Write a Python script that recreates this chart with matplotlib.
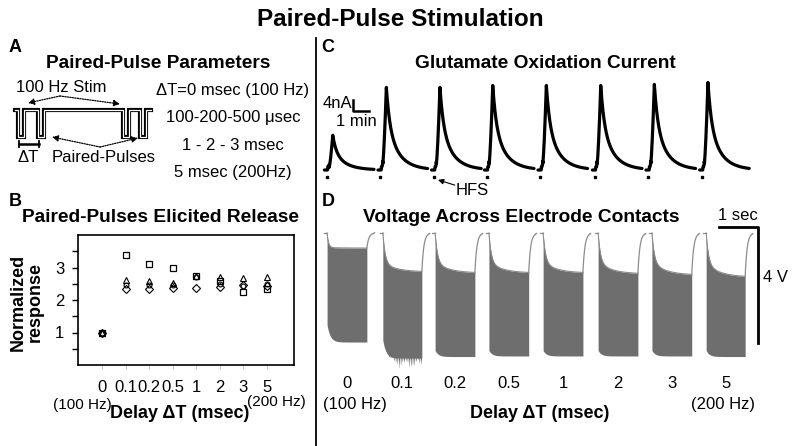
import numpy as np
import matplotlib
matplotlib.use("Agg")
import matplotlib.pyplot as plt

plt.rcParams['font.family'] = ['Liberation Sans', 'DejaVu Sans']

# ---------------- data ----------------
delays = ['0', '0.1', '0.2', '0.5', '1', '2', '3', '5']

# Panel B: normalized response per delay (four experiments)
resp_squares = [1.0, 3.40, 3.12, 3.00, 2.75, 2.57, 2.26, 2.35]
resp_triangles = [1.0, 2.62, 2.60, 2.52, 2.75, 2.70, 2.68, 2.71]
resp_diamonds = [1.0, 2.33, 2.33, 2.37, 2.37, 2.40, 2.45, 2.42]
resp_circles = [1.0, 2.45, 2.45, 2.45, 2.72, 2.50, 2.42, 2.48]

# Panel C: glutamate oxidation current (stimulation time in min, peak in nA)
stim_min = [0.4, 3.75, 7.1, 10.4, 13.75, 17.15, 20.5, 23.85]
peak_nA = [12.7, 30.2, 30.2, 30.9, 30.9, 30.9, 31.3, 32.0]

# Panel D: voltage across electrode contacts (sec, V)
train_start_s = [0.13, 1.56, 2.90, 4.28, 5.67, 7.08, 8.46, 9.85]
train_dur_s = [1.02, 1.00, 1.02, 1.02, 1.02, 1.02, 1.02, 1.00]
top_start_V = [-0.50, -1.03, -1.00, -1.00, -1.00, -1.00, -1.00, -1.05]
top_end_V = [-0.52, -1.34, -1.38, -1.38, -1.38, -1.41, -1.45, -1.52]
bot_start_V = [-3.17, -3.70, -4.05, -4.05, -4.05, -4.05, -4.05, -4.05]
bot_end_V = [-3.76, -4.31, -4.26, -4.24, -4.24, -4.24, -4.24, -4.26]

# Panel A schematic waveform (schematic units)
wave_x = [15, 18, 18, 24, 24, 38, 38, 44, 44, 123, 123, 129, 129, 140, 140, 146, 146, 151]
wave_y = [110, 110, 137, 137, 110, 110, 137, 137, 110, 110, 137, 137, 110, 110, 137, 137, 110, 110]
param_lines = ['\u0394T=0 msec (100 Hz)', '100-200-500 \u03bcsec', '1 - 2 - 3 msec', '5 msec (200Hz)']

W, H = 800, 446
fig = plt.figure(figsize=(W / 100, H / 100), dpi=100)

FS = 12      # regular text
FSB = 13     # bold axis labels
FST = 13.8   # panel titles


def px(x0, y0, x1, y1):
    return [x0 / W, 1 - y1 / H, (x1 - x0) / W, (y1 - y0) / H]


# overlay in pixel coordinates for text & schematic
ov = fig.add_axes([0, 0, 1, 1])
ov.set_xlim(0, W)
ov.set_ylim(H, 0)
ov.axis('off')

ov.text(400, 19, 'Paired-Pulse Stimulation', ha='center', va='center', fontsize=17.5, fontweight='bold')
ov.plot([316, 316], [38, 446], color='k', lw=1.3)

# ---- Panel A ----
ov.text(15, 47, 'A', ha='center', va='center', fontsize=13, fontweight='bold')
ov.text(158, 63, 'Paired-Pulse Parameters', ha='center', va='center', fontsize=FST, fontweight='bold')
ov.plot(wave_x, wave_y, color='k', lw=3.0, solid_joinstyle='miter')
ov.plot(wave_x, wave_y, color='white', lw=0.9, solid_joinstyle='miter')
ov.text(61, 88, '100 Hz Stim', ha='center', va='center', fontsize=FS)
for tgt in [(28, 103), (120, 104)]:
    ov.annotate('', xy=tgt, xytext=(60, 96),
                arrowprops=dict(arrowstyle='-|>', linestyle=(0, (1, 1)), lw=0.9, color='k',
                                mutation_scale=9, shrinkA=0, shrinkB=0))
for tgt in [(52, 137), (138, 138)]:
    ov.annotate('', xy=tgt, xytext=(100, 147),
                arrowprops=dict(arrowstyle='-|>', linestyle=(0, (1, 1)), lw=0.9, color='k',
                                mutation_scale=9, shrinkA=0, shrinkB=0))
ov.plot([19, 39], [144, 144], color='k', lw=1.8)
ov.plot([19, 19], [141, 147], color='k', lw=1.3)
ov.plot([39, 39], [141, 147], color='k', lw=1.3)
ov.text(28, 158, '\u0394T', ha='center', va='center', fontsize=FS)
ov.text(104, 158, 'Paired-Pulses', ha='center', va='center', fontsize=FS)
for i, s in enumerate(param_lines):
    ov.text(233, 90 + 27.5 * i, s, ha='center', va='center', fontsize=FS)

# ---- Panel B ----
ov.text(15, 201, 'B', ha='center', va='center', fontsize=13, fontweight='bold')
ov.text(161, 218, 'Paired-Pulses Elicited Release', ha='center', va='center', fontsize=FST, fontweight='bold')
ov.text(27, 302, 'Normalized\nresponse', ha='center', va='center', fontsize=FSB, fontweight='bold',
        rotation=90, linespacing=1.0)
ov.text(82, 405, '(100 Hz)', ha='center', va='center', fontsize=11)
ov.text(180, 414, 'Delay \u0394T (msec)', ha='center', va='center', fontsize=FSB, fontweight='bold')
ov.text(276, 402, '(200 Hz)', ha='center', va='center', fontsize=11)

axB = fig.add_axes(px(78, 235, 294, 365))
xpos = np.arange(len(delays))
axB.plot(xpos, resp_triangles, linestyle='none', marker='^', ms=5, mfc='none', mec='k', mew=0.8)
axB.plot(xpos, resp_circles, linestyle='none', marker='o', ms=3.5, mfc='none', mec='k', mew=0.8)
axB.plot(xpos, resp_diamonds, linestyle='none', marker='D', ms=3.8, mfc='none', mec='k', mew=0.8)
axB.plot(xpos, resp_squares, linestyle='none', marker='s', ms=4.8, mfc='none', mec='k', mew=0.9)
axB.set_xlim(-1.02, 8.15)
axB.set_ylim(0, 4)
axB.set_xticks(xpos)
axB.set_xticklabels(delays, fontsize=FS)
axB.set_yticks([0.5, 1, 1.5, 2, 2.5, 3, 3.5])
axB.set_yticklabels(['', '1', '', '2', '', '3', ''], fontsize=FS)
axB.tick_params(axis='y', direction='out', length=4, width=1, pad=6)
axB.tick_params(axis='x', direction='out', length=3, width=0.6, color='#bbbbbb', pad=8)
for sp in axB.spines.values():
    sp.set_linewidth(1.2)

# ---- Panel C ----
ov.text(328, 47, 'C', ha='center', va='center', fontsize=13, fontweight='bold')
ov.text(545, 63, 'Glutamate Oxidation Current', ha='center', va='center', fontsize=FST, fontweight='bold')

axC = fig.add_axes(px(322, 75, 762, 184))
axC.set_xlim(0, (762 - 322) / 16)
axC.set_ylim((170 - 184) / 2.75, (170 - 75) / 2.75)
axC.axis('off')
axC.patch.set_alpha(0)
for t0, amp in zip(stim_min, peak_nA):
    t = np.linspace(-0.25, 2.85, 500)
    rise = amp * np.clip(t / 0.27, 0, 1) ** 1.6
    s = np.clip(t - 0.27, 0, None)
    decay = amp * (0.45 * np.exp(-s / 0.22) + 0.55 * np.exp(-s / 0.75))
    y = np.where(t < 0, 0, np.where(t < 0.27, rise, decay))
    y = y + np.where((t > -0.05) & (t < 0.05), 1.2, 0)
    axC.plot(t0 + t, y, color='k', lw=2.3, solid_capstyle='round')
    axC.plot([t0 - 0.1], [-2.6], marker='s', ms=1.8, color='k')
# scale bar
axC.plot([1.94, 1.94, 2.94], [25.5, 21.5, 21.5], color='k', lw=1.8)
axC.text(1.9, 24.0, '4nA', ha='right', va='center', fontsize=FS)
axC.text(2.15, 17.6, '1 min', ha='center', va='center', fontsize=FS)
axC.annotate('', xy=(7.25, -3.6), xytext=(8.3, -5.5), annotation_clip=False,
             arrowprops=dict(arrowstyle='-|>', color='k', lw=0.8, mutation_scale=8,
                             shrinkA=0, shrinkB=0))
axC.text(9.4, -7.3, 'HFS', ha='center', va='center', fontsize=FS)

# ---- Panel D ----
ov.text(328, 201, 'D', ha='center', va='center', fontsize=13, fontweight='bold')
ov.text(521, 217, 'Voltage Across Electrode Contacts', ha='center', va='center', fontsize=FST, fontweight='bold')

axD = fig.add_axes(px(322, 225, 790, 372))
axD.set_xlim(0, (790 - 322) / 39)
axD.set_ylim((233 - 372) / 29, (233 - 225) / 29)
axD.axis('off')
axD.patch.set_alpha(0)
fill_c = '#6e6e6e'
edge_c = '#8c8c8c'
for i, (t0, dur) in enumerate(zip(train_start_s, train_dur_s)):
    t = np.linspace(0, dur, 3000)
    plateau = top_start_V[i] + (top_end_V[i] - top_start_V[i]) * (1 - np.exp(-t / 0.35))
    tau_drop = 0.035 if i == 0 else 0.055
    top = plateau * (1 - np.exp(-t / tau_drop))
    bot = bot_end_V[i] + (bot_start_V[i] - bot_end_V[i]) * np.exp(-t / 0.08)
    if i == 1:
        ramp = np.clip((t - 0.1) / 0.3, 0, 1)
        spikes = np.abs(np.sin(2 * np.pi * 11.5 * t)) ** 4
        depth = 0.55 + 0.3 * np.sin(2 * np.pi * 3.1 * t) + 0.15 * np.sin(2 * np.pi * 7.7 * t)
        bot = bot - 0.36 * ramp * spikes * depth
    axD.fill_between(t0 + t, bot, top, color=fill_c, lw=0)
    axD.plot(t0 + t, top, color=edge_c, lw=0.8)
    # pre-stub and recovery
    axD.plot([t0 - 0.07, t0], [0, 0], color=edge_c, lw=0.9)
    sr = np.linspace(0, 0.17, 60)
    rec = top_end_V[i] * np.exp(-sr / 0.05)
    axD.plot(t0 + dur + sr, rec, color=edge_c, lw=0.9)
    axD.plot([t0 + dur + 0.17, t0 + dur + 0.2], [rec[-1], rec[-1] + 0.03], color=edge_c, lw=0.9)
    axD.text(t0 + dur / 2, (233 - 383) / 29, delays[i], ha='center', va='center', fontsize=FS)
# scale bar
axD.plot([10.18, 11.18, 11.18], [0.2, 0.2, -3.8], color='k', lw=2.0, clip_on=False)
axD.text(10.67, 0.62, '1 sec', ha='center', va='center', fontsize=FS)
axD.text(11.64, -1.55, '4 V', ha='center', va='center', fontsize=FS)

ov.text(355, 405, '(100 Hz)', ha='center', va='center', fontsize=FS)
ov.text(723, 405, '(200 Hz)', ha='center', va='center', fontsize=FS)
ov.text(540, 413, 'Delay \u0394T (msec)', ha='center', va='center', fontsize=FSB, fontweight='bold')

fig.savefig('out.png', dpi=100)
